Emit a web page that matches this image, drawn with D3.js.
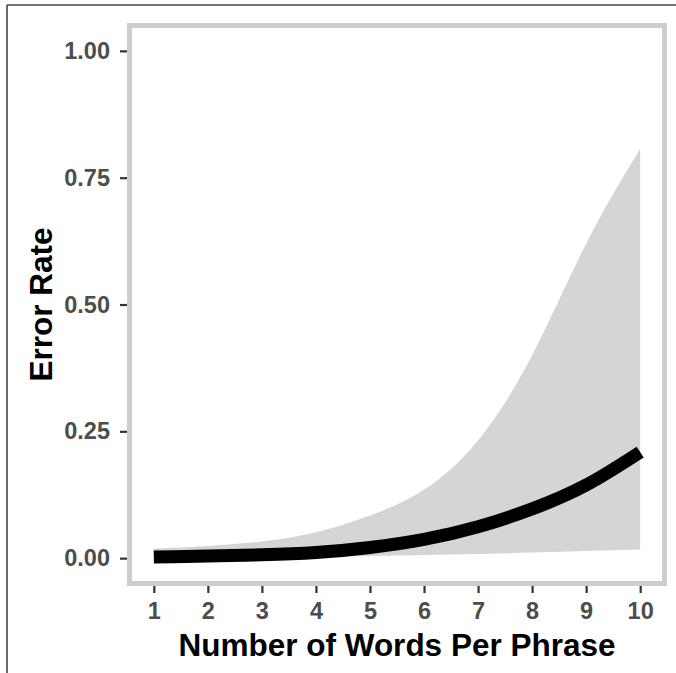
<!DOCTYPE html>
<html>
<head>
<meta charset="utf-8">
<script src="https://cdn.jsdelivr.net/npm/d3@7/dist/d3.min.js"></script>
<style>
  html, body { margin: 0; padding: 0; background: #fff; }
  svg { display: block; }
</style>
</head>
<body>
<svg id="chart" width="676" height="673"></svg>
<script>
// Predicted error rate by phrase length, with confidence band
const wordsPerPhrase = [1, 2, 3, 4, 5, 6, 7, 8, 9, 10];
const errorRate      = [0.002, 0.004, 0.0065, 0.011, 0.021, 0.037, 0.062, 0.097, 0.144, 0.209];
const bandUpper      = [0.019, 0.024, 0.033, 0.051, 0.084, 0.135, 0.232, 0.400, 0.620, 0.807];
const bandLower      = [0.0005, 0.001, 0.002, 0.003, 0.004, 0.006, 0.008, 0.011, 0.014, 0.017];
const yTicks         = [0, 0.25, 0.5, 0.75, 1];
const xTicks         = [1, 2, 3, 4, 5, 6, 7, 8, 9, 10];
const xTitle = "Number of Words Per Phrase";
const yTitle = "Error Rate";

const rows = wordsPerPhrase.map((w, i) => ({
  x: w, y: errorRate[i], lo: bandLower[i], hi: bandUpper[i]
}));

const svg = d3.select("#chart");
const font = "'Liberation Sans', Arial, Helvetica, sans-serif";

// panel bounds (including expansion around the data range)
const panel = { left: 129.5, right: 664.5, top: 25.5, bottom: 583.5 };

const x = d3.scaleLinear()
  .domain([0.55, 10.45])
  .range([panel.left, panel.right]);
const y = d3.scaleLinear()
  .domain([-0.05, 1.05])
  .range([panel.bottom, panel.top]);

// outer frame
svg.append("line").attr("x1", 7).attr("y1", 5).attr("x2", 676).attr("y2", 5)
  .attr("stroke", "#444").attr("stroke-width", 1.6);
svg.append("line").attr("x1", 7).attr("y1", 5).attr("x2", 7).attr("y2", 673)
  .attr("stroke", "#444").attr("stroke-width", 1.6);

// confidence band
const area = d3.area()
  .x(d => x(d.x))
  .y0(d => y(d.lo))
  .y1(d => y(d.hi))
  .curve(d3.curveNatural);
svg.append("path").datum(rows)
  .attr("d", area)
  .attr("fill", "#d5d5d5");

// fitted curve
const line = d3.line()
  .x(d => x(d.x))
  .y(d => y(d.y))
  .curve(d3.curveNatural);
svg.append("path").datum(rows)
  .attr("d", line)
  .attr("fill", "none")
  .attr("stroke", "#000")
  .attr("stroke-width", 13)
  .attr("stroke-linecap", "butt");

// panel border
svg.append("rect")
  .attr("x", panel.left).attr("y", panel.top)
  .attr("width", panel.right - panel.left)
  .attr("height", panel.bottom - panel.top)
  .attr("fill", "none")
  .attr("stroke", "#cdcdcd")
  .attr("stroke-width", 5);

// y axis
const yAxis = d3.axisLeft(y)
  .tickValues(yTicks)
  .tickFormat(d3.format(".2f"))
  .tickSize(7)
  .tickPadding(10);
const gy = svg.append("g")
  .attr("transform", `translate(${panel.left - 2.5},0)`)
  .call(yAxis);
gy.select(".domain").remove();
gy.selectAll(".tick line").attr("stroke", "#333").attr("stroke-width", 2.2);
gy.selectAll(".tick text")
  .attr("fill", "#4d4d4d")
  .style("font-family", font)
  .style("font-weight", "bold")
  .style("font-size", "23.5px");

// x axis
const xAxis = d3.axisBottom(x)
  .tickValues(xTicks)
  .tickFormat(d3.format("d"))
  .tickSize(7)
  .tickPadding(9);
const gx = svg.append("g")
  .attr("transform", `translate(0,${panel.bottom + 2.5})`)
  .call(xAxis);
gx.select(".domain").remove();
gx.selectAll(".tick line").attr("stroke", "#333").attr("stroke-width", 2.2);
gx.selectAll(".tick text")
  .attr("fill", "#4d4d4d")
  .style("font-family", font)
  .style("font-weight", "bold")
  .style("font-size", "23.5px");

// axis titles
svg.append("text")
  .attr("x", (panel.left + panel.right) / 2)
  .attr("y", 656)
  .attr("text-anchor", "middle")
  .style("font-family", font)
  .style("font-weight", "bold")
  .style("font-size", "31.5px")
  .attr("fill", "#000")
  .text(xTitle);

svg.append("text")
  .attr("transform", `translate(52,${(panel.top + panel.bottom) / 2}) rotate(-90)`)
  .attr("text-anchor", "middle")
  .style("font-family", font)
  .style("font-weight", "bold")
  .style("font-size", "31.5px")
  .attr("fill", "#000")
  .text(yTitle);
</script>
</body>
</html>
